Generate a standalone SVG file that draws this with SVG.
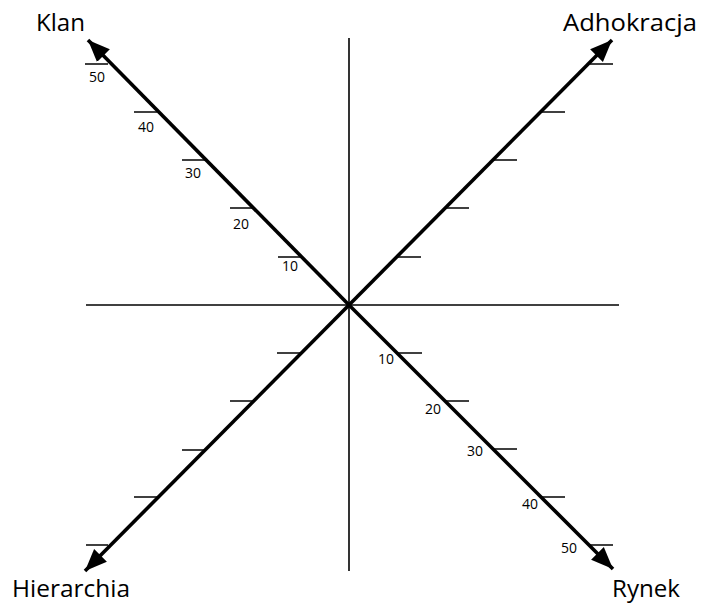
<svg xmlns="http://www.w3.org/2000/svg" width="701" height="603" viewBox="0 0 701 603">
<style>
.axis{stroke:#000;stroke-width:1.6;fill:none}
.diag{stroke:#000;stroke-width:3.6;fill:none;marker-end:url(#arr)}
.tick{stroke:#000;stroke-width:1.5;fill:none}
.lbl{font-family:"Open Sans","Liberation Sans",sans-serif;font-size:24px;fill:#000}
.num{font-family:"Open Sans","Liberation Sans",sans-serif;font-size:14px;fill:#000}
</style>
<defs>
<marker id="arr" markerUnits="userSpaceOnUse" markerWidth="24" markerHeight="24" viewBox="0 0 24 24" refX="22" refY="12" orient="auto">
<path d="M0,3 L22,12 L0,21 Z" fill="#000"/>
</marker>
</defs>
<rect width="701" height="603" fill="#fff"/>
<g id="connectors">
<line class="axis" x1="349" y1="38" x2="349" y2="571"/>
<line class="axis" x1="86" y1="305" x2="619" y2="305"/>
<line class="diag" x1="349" y1="305" x2="88" y2="40"/>
<line class="diag" x1="349" y1="305" x2="612" y2="40"/>
<line class="diag" x1="349" y1="305" x2="85" y2="571"/>
<line class="diag" x1="349" y1="305" x2="613" y2="569"/>
</g>
<g id="klan">
<text class="lbl" x="36" y="31" textLength="49" lengthAdjust="spacingAndGlyphs">Klan</text>
<line class="tick" x1="85" y1="64" x2="108" y2="64"/>
<line class="tick" x1="134" y1="112" x2="157" y2="112"/>
<line class="tick" x1="182" y1="160" x2="205" y2="160"/>
<line class="tick" x1="230" y1="208" x2="253" y2="208"/>
<line class="tick" x1="278" y1="257" x2="301" y2="257"/>
<text class="num" x="89" y="82">50</text>
<text class="num" x="138" y="132">40</text>
<text class="num" x="185" y="178">30</text>
<text class="num" x="233" y="229">20</text>
<text class="num" x="282" y="271">10</text>
</g>
<g id="adhokracja">
<text class="lbl" x="563" y="31" textLength="134" lengthAdjust="spacingAndGlyphs">Adhokracja</text>
<line class="tick" x1="397" y1="257" x2="421" y2="257"/>
<line class="tick" x1="446" y1="208" x2="469" y2="208"/>
<line class="tick" x1="494" y1="160" x2="517" y2="160"/>
<line class="tick" x1="542" y1="112" x2="565" y2="112"/>
<line class="tick" x1="590" y1="64" x2="613" y2="64"/>
</g>
<g id="hierarchia">
<text class="lbl" x="12" y="597" textLength="118" lengthAdjust="spacingAndGlyphs">Hierarchia</text>
<line class="tick" x1="277" y1="353" x2="300" y2="353"/>
<line class="tick" x1="230" y1="401" x2="253" y2="401"/>
<line class="tick" x1="182" y1="450" x2="205" y2="450"/>
<line class="tick" x1="134" y1="497" x2="157" y2="497"/>
<line class="tick" x1="86" y1="545" x2="108" y2="545"/>
</g>
<g id="rynek">
<text class="lbl" x="612" y="597" textLength="68" lengthAdjust="spacingAndGlyphs">Rynek</text>
<line class="tick" x1="398" y1="353" x2="422" y2="353"/>
<line class="tick" x1="446" y1="401" x2="469" y2="401"/>
<line class="tick" x1="494" y1="449" x2="517" y2="449"/>
<line class="tick" x1="542" y1="497" x2="565" y2="497"/>
<line class="tick" x1="590" y1="545" x2="613" y2="545"/>
<text class="num" x="378" y="364">10</text>
<text class="num" x="425" y="414">20</text>
<text class="num" x="467" y="456">30</text>
<text class="num" x="522" y="509">40</text>
<text class="num" x="561" y="553">50</text>
</g>
</svg>
